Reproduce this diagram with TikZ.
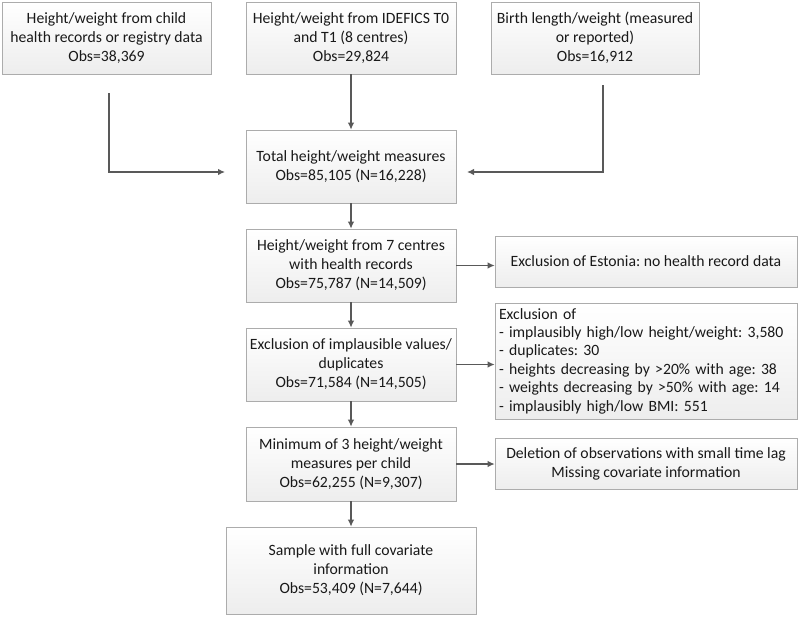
\documentclass[tikz,border=0pt]{standalone}
\usepackage{fontspec}
\setmainfont{Carlito}
\frenchspacing
\usetikzlibrary{arrows.meta,shadows}

\begin{document}
\begin{tikzpicture}[
    x=1pt, y=-1pt,
    every node/.style={font=\fontsize{15.7}{19}\selectfont, text=black!90},
    box/.style={draw=gray!65, line width=0.7pt, top color=white, bottom color=gray!14,
        align=center, inner sep=3pt, minimum width=210pt, minimum height=73pt,
        drop shadow={shadow xshift=1.2pt, shadow yshift=-1.2pt, fill=gray!50, opacity=0.5}},
    sidebox/.style={box, minimum width=302pt, minimum height=51pt},
    arr/.style={line width=1.2pt, draw=black!65, -{Latex[length=7pt,width=6.5pt]}}
]
\useasboundingbox (0,0) rectangle (800,618);

% sources
\node[box, minimum width=209pt, minimum height=72pt] (recs) at (106.5,38)
    {Height/weight from child\\health records or registry data\\Obs=38,369};
\node[box, minimum height=72pt] (idefics) at (351,38)
    {Height/weight from IDEFICS T0\\and T1 (8 centres)\\Obs=29,824};
\node[box, minimum width=208pt, minimum height=72pt] (birth) at (595,38)
    {Birth length/weight (measured\\or reported)\\Obs=16,912};

% main column
\node[box] (total) at (351,166.5)
    {Total height/weight measures\\Obs=85,105 (N=16,228)};
\node[box] (centres) at (351,265.5)
    {Height/weight from 7 centres\\with health records\\Obs=75,787 (N=14,509)};
\node[box] (implaus) at (351,364.5)
    {Exclusion of implausible values/\\duplicates\\Obs=71,584 (N=14,505)};
\node[box, minimum height=74pt] (minimum) at (351,464)
    {Minimum of 3 height/weight\\measures per child\\Obs=62,255 (N=9,307)};
\node[box, minimum width=250pt, minimum height=87pt] (sample) at (351,570.5)
    {Sample with full covariate\\information\\Obs=53,409 (N=7,644)};

% exclusions
\node[sidebox] (estonia) at (646,261.5)
    {Exclusion of Estonia: no health record data};
\node[sidebox, align=left, text width=294pt, minimum height=116pt, inner sep=4pt,
    font=\fontsize{15.7}{18.4}\selectfont] (exclist) at (646,361)
    {Exclusion of\\
     - implausibly high/low height/weight: 3,580\\
     - duplicates: 30\\
     - heights decreasing by >20\% with age: 38\\
     - weights decreasing by >50\% with age: 14\\
     - implausibly high/low BMI: 551};
\node[sidebox] (deletion) at (646,463.5)
    {Deletion of observations with small time lag\\Missing covariate information};

\coordinate (recsout) at (109,93);
\coordinate (recsin) at (225,172);
\coordinate (birthout) at (603,85);
\coordinate (birthin) at (467,172);

\draw[arr] (recsout) |- (recsin);
\draw[arr] (idefics) -- (total);
\draw[arr] (birthout) |- (birthin);

\draw[arr] (total) -- (centres);
\draw[arr] (centres) -- (implaus);
\draw[arr] (implaus) -- (minimum);
\draw[arr] (minimum) -- (sample);

\draw[arr] (centres.east) -- (centres.east -| estonia.west);
\draw[arr] (implaus.east) -- (implaus.east -| exclist.west);
\draw[arr] (minimum.east) -- (minimum.east -| deletion.west);

\end{tikzpicture}
\end{document}
